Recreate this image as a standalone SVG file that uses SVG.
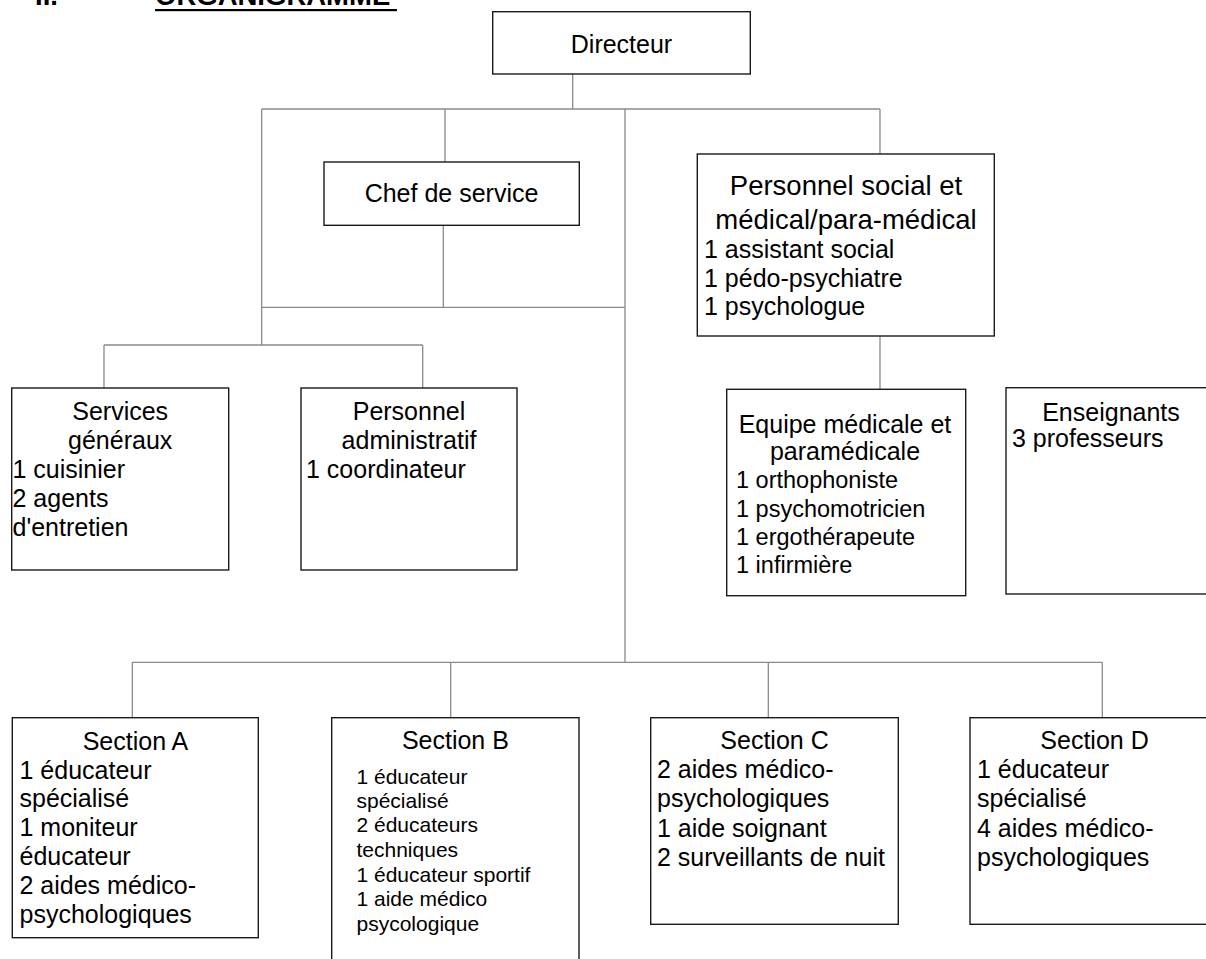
<svg xmlns="http://www.w3.org/2000/svg" width="1206" height="959" viewBox="0 0 1206 959">
<style>
  .box{fill:#fff;stroke:#1a1a1a;stroke-width:1.4}
  .con{fill:none;stroke:#8a8a8a;stroke-width:1.3}
  text{font-family:"Liberation Sans",Arial,sans-serif;fill:#000}
  .t{font-size:25px}
  .h{font-size:27.5px}
  .s{font-size:21px}
  .m{text-anchor:middle}
  .title{font-size:27.5px;font-weight:bold}
</style>
<rect width="1206" height="959" fill="#fff"/>
<g id="title">
  <text class="title" x="35" y="5">II.</text>
  <text class="title" x="155" y="5">ORGANIGRAMME</text>
  <rect x="155" y="9" width="242" height="2.2" fill="#000"/>
</g>
<g id="connectors">
  <path class="con" d="M572.7,74 V109 M261.7,109 H880 M445,109 V162 M625,109 V662.3 M880,109 V154 M261.7,109 V345 M443.3,225.3 V307.3 M261.7,307.3 H625 M104,345 H422.7 M104,345 V388 M422.7,345 V388 M880,336 V389.3 M132.3,662.3 H1102.3 M132.3,662.3 V717.7 M450.7,662.3 V717.7 M768.3,662.3 V717.7 M1102.3,662.3 V717.7"/>
</g>
<g id="directeur">
  <rect class="box" x="492.7" y="11.7" width="257.6" height="62.3"/>
  <text class="t m" x="621.5" y="53.3">Directeur</text>
</g>
<g id="chef">
  <rect class="box" x="324" y="162" width="255.3" height="63.3"/>
  <text class="t m" x="451.5" y="201.7">Chef de service</text>
</g>
<g id="social">
  <rect class="box" x="697.3" y="154" width="297" height="182"/>
  <text class="h m" x="846" y="195">Personnel social et</text>
  <text class="h m" x="846" y="229.3">médical/para-médical</text>
  <text class="t" x="704" y="258.3">1 assistant social</text>
  <text class="t" x="704" y="286.7">1 pédo-psychiatre</text>
  <text class="t" x="704" y="315">1 psychologue</text>
</g>
<g id="services">
  <rect class="box" x="11.7" y="388" width="217" height="182"/>
  <text class="t m" x="120.2" y="420">Services</text>
  <text class="t m" x="120.2" y="448.5">généraux</text>
  <text class="t" x="12.5" y="477.5">1 cuisinier</text>
  <text class="t" x="12.5" y="506.5">2 agents</text>
  <text class="t" x="12.5" y="535.5">d'entretien</text>
</g>
<g id="administratif">
  <rect class="box" x="301" y="388" width="216" height="182"/>
  <text class="t m" x="409" y="420">Personnel</text>
  <text class="t m" x="409" y="448.5">administratif</text>
  <text class="t" x="306" y="477.5">1 coordinateur</text>
</g>
<g id="equipe">
  <rect class="box" x="726.7" y="389.3" width="239" height="206.4"/>
  <text class="t m" x="845" y="432.7">Equipe médicale et</text>
  <text class="t m" x="845" y="460">paramédicale</text>
  <text class="t" x="736" y="488.3" style="font-size:23.5px">1 orthophoniste</text>
  <text class="t" x="736" y="516.7" style="font-size:23.5px">1 psychomotricien</text>
  <text class="t" x="736" y="545" style="font-size:23.5px">1 ergothérapeute</text>
  <text class="t" x="736" y="573.3" style="font-size:23.5px">1 infirmière</text>
</g>
<g id="enseignants">
  <rect class="box" x="1006" y="387.7" width="212" height="206.3"/>
  <text class="t m" x="1111" y="420.7">Enseignants</text>
  <text class="t" x="1012" y="446.7">3 professeurs</text>
</g>
<g id="sectionA">
  <rect class="box" x="12.3" y="717.7" width="246" height="220"/>
  <text class="t m" x="135.5" y="750">Section A</text>
  <text class="t" x="19.5" y="778.5">1 éducateur</text>
  <text class="t" x="19.5" y="807.3">spécialisé</text>
  <text class="t" x="19.5" y="836.2">1 moniteur</text>
  <text class="t" x="19.5" y="865">éducateur</text>
  <text class="t" x="19.5" y="894">2 aides médico-</text>
  <text class="t" x="19.5" y="923">psychologiques</text>
</g>
<g id="sectionB">
  <rect class="box" x="331.7" y="717.7" width="247.3" height="260"/>
  <text class="t m" x="455.4" y="749">Section B</text>
  <text class="s" x="356.5" y="784.3">1 éducateur</text>
  <text class="s" x="356.5" y="808">spécialisé</text>
  <text class="s" x="356.5" y="832">2 éducateurs</text>
  <text class="s" x="356.5" y="856.5">techniques</text>
  <text class="s" x="356.5" y="881.5">1 éducateur sportif</text>
  <text class="s" x="356.5" y="906">1 aide médico</text>
  <text class="s" x="356.5" y="930.5">psycologique</text>
</g>
<g id="sectionC">
  <rect class="box" x="650.7" y="717.7" width="247.6" height="206.6"/>
  <text class="t m" x="774.5" y="749">Section C</text>
  <text class="t" x="657" y="778.3">2 aides médico-</text>
  <text class="t" x="657" y="807.2">psychologiques</text>
  <text class="t" x="657" y="836.5">1 aide soignant</text>
  <text class="t" x="657" y="865.5">2 surveillants de nuit</text>
</g>
<g id="sectionD">
  <rect class="box" x="970" y="717.7" width="248" height="206.6"/>
  <text class="t m" x="1094.5" y="749">Section D</text>
  <text class="t" x="977" y="778.3">1 éducateur</text>
  <text class="t" x="977" y="807.2">spécialisé</text>
  <text class="t" x="977" y="836.5">4 aides médico-</text>
  <text class="t" x="977" y="865.5">psychologiques</text>
</g>
</svg>
